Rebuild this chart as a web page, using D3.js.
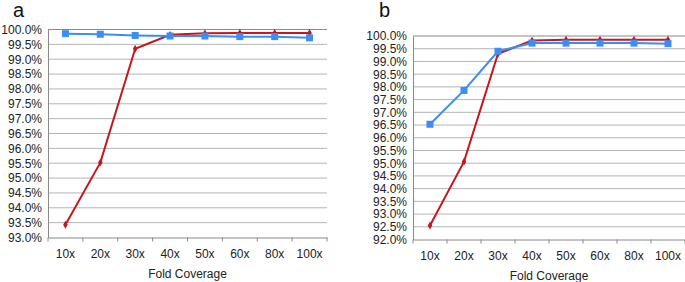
<!DOCTYPE html>
<html>
<head>
<meta charset="utf-8">
<script src="https://cdn.jsdelivr.net/npm/d3@7"></script>
<style>
  body { margin: 0; background: #fff; }
  svg { display: block; font-family: "Liberation Sans", Arial, sans-serif; }
</style>
</head>
<body>
<svg id="chart" width="685" height="282"></svg>
<script>
// categories shared by both panels
const categories = ["10x", "20x", "30x", "40x", "50x", "60x", "80x", "100x"];

// panel a
const redA = [93.43, 95.52, 99.35, 99.82, 99.87, 99.88, 99.88, 99.88];
const blueA = [99.86, 99.84, 99.80, 99.78, 99.78, 99.76, 99.76, 99.72];
const ticksA = [93.0, 93.5, 94.0, 94.5, 95.0, 95.5, 96.0, 96.5, 97.0, 97.5, 98.0, 98.5, 99.0, 99.5, 100.0];

// panel b
const redB = [92.55, 95.06, 99.30, 99.82, 99.85, 99.85, 99.85, 99.85];
const blueB = [96.53, 97.86, 99.40, 99.72, 99.72, 99.72, 99.72, 99.70];
const ticksB = [92.0, 92.5, 93.0, 93.5, 94.0, 94.5, 95.0, 95.5, 96.0, 96.5, 97.0, 97.5, 98.0, 98.5, 99.0, 99.5, 100.0];

const RED = "#c8161d";
const BLUE = "#3b8ef3";

const svg = d3.select("#chart");

function drawPanel(opts) {
  const g = svg.append("g");

  const x = d3.scaleBand()
    .domain(categories)
    .range([opts.left, opts.right]);

  const y = d3.scaleLinear()
    .domain([opts.ticks[0], opts.ticks[opts.ticks.length - 1]])
    .range([opts.bottom, opts.top]);

  // gridlines
  g.selectAll(".grid")
    .data(opts.ticks.slice(1))
    .enter()
    .append("line")
    .attr("x1", opts.left)
    .attr("x2", opts.right)
    .attr("y1", d => y(d))
    .attr("y2", d => y(d))
    .attr("stroke", (d, i) => i === opts.ticks.length - 2 ? "#8a8a8a" : "#b4b4b4")
    .attr("stroke-width", 1);

  // y axis
  const yAxis = g.append("g")
    .attr("transform", `translate(${opts.left},0)`)
    .call(d3.axisLeft(y).tickValues(opts.ticks).tickFormat(d => d.toFixed(1) + "%").tickSize(0).tickPadding(6));
  yAxis.select(".domain").attr("stroke", "#8a8a8a");
  yAxis.selectAll("text").attr("font-size", 12).attr("fill", "#222").attr("font-family", "Liberation Sans, Arial, sans-serif");

  // x axis
  const xAxis = g.append("g")
    .attr("transform", `translate(0,${opts.bottom})`)
    .call(d3.axisBottom(x).tickSize(0).tickPadding(12));
  xAxis.select(".domain").attr("stroke", "#8a8a8a");
  xAxis.selectAll("text").attr("font-size", 12).attr("fill", "#222").attr("font-family", "Liberation Sans, Arial, sans-serif");

  // tick marks at band boundaries
  const bounds = categories.map(c => x(c)).concat([x(categories[categories.length - 1]) + x.bandwidth()]);
  g.selectAll(".xtick")
    .data(bounds)
    .enter()
    .append("line")
    .attr("x1", d => d)
    .attr("x2", d => d)
    .attr("y1", opts.bottom)
    .attr("y2", opts.bottom + 4)
    .attr("stroke", "#8a8a8a");

  const cx = d => x(d) + x.bandwidth() / 2;

  const line = d3.line()
    .x((d, i) => cx(categories[i]))
    .y(d => y(d));

  // red series
  g.append("path")
    .datum(opts.red)
    .attr("d", line)
    .attr("fill", "none")
    .attr("stroke", RED)
    .attr("stroke-width", 2);

  g.selectAll(".redpt")
    .data(opts.red)
    .enter()
    .append("path")
    .attr("d", d3.symbol(d3.symbolDiamond, 18))
    .attr("transform", (d, i) => `translate(${cx(categories[i])},${y(d)})`)
    .attr("fill", RED);

  // blue series
  g.append("path")
    .datum(opts.blue)
    .attr("d", line)
    .attr("fill", "none")
    .attr("stroke", BLUE)
    .attr("stroke-width", 2);

  g.selectAll(".bluept")
    .data(opts.blue)
    .enter()
    .append("rect")
    .attr("x", (d, i) => cx(categories[i]) - 3.5)
    .attr("y", d => y(d) - 3.5)
    .attr("width", 7)
    .attr("height", 7)
    .attr("fill", BLUE);

  // axis title
  g.append("text")
    .attr("x", (opts.left + opts.right) / 2)
    .attr("y", opts.bottom + 40)
    .attr("text-anchor", "middle")
    .attr("font-size", 12)
    .attr("fill", "#222")
    .text("Fold Coverage");

  // panel letter
  g.append("text")
    .attr("x", opts.labelX)
    .attr("y", opts.labelY)
    .attr("font-size", 20)
    .attr("fill", "#111")
    .text(opts.label);
}

drawPanel({ left: 48, right: 327, top: 29.5, bottom: 237.5, ticks: ticksA, red: redA, blue: blueA, label: "a", labelX: 13, labelY: 17 });
drawPanel({ left: 413, right: 685, top: 36, bottom: 239.5, ticks: ticksB, red: redB, blue: blueB, label: "b", labelX: 379, labelY: 17 });
</script>
</body>
</html>
